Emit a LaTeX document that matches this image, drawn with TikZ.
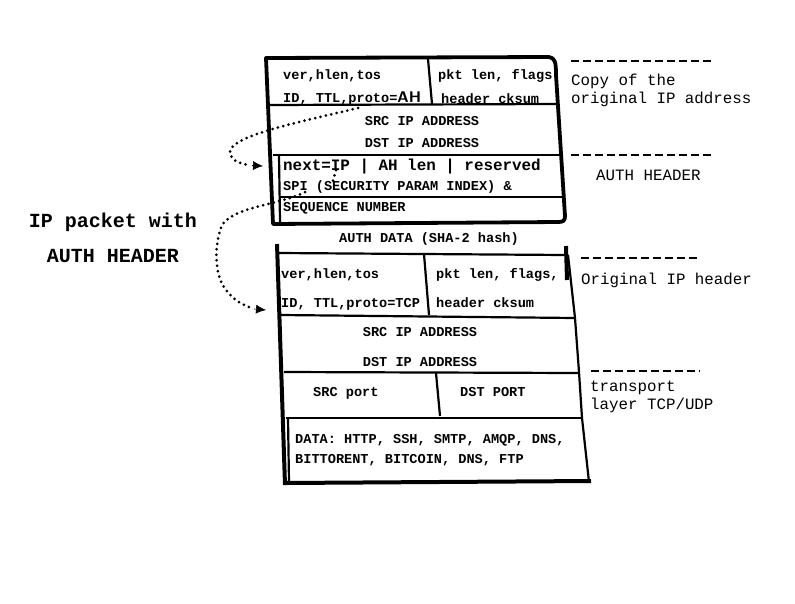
\documentclass[tikz,border=0pt]{standalone}
\usepackage{fontspec}
\setmainfont{Liberation Mono}
\setmonofont{Liberation Mono}
\usetikzlibrary{arrows.meta}
\tikzset{
  bx/.style={font=\fontsize{13.6}{16}\selectfont\bfseries, inner sep=0pt, anchor=base west},
  bxc/.style={font=\fontsize{13.6}{16}\selectfont\bfseries, inner sep=0pt, anchor=base},
  lbl/.style={font=\fontsize{15.8}{18}\selectfont, inner sep=0pt, anchor=base west, align=left},
  ttl/.style={font=\fontsize{20}{35}\selectfont\bfseries, inner sep=0pt, anchor=base, align=center},
  outer/.style={line width=3.8pt, line join=round},
  thickbar/.style={line width=4pt},
  div/.style={line width=2.2pt},
  thin/.style={line width=1.6pt},
  dashl/.style={line width=2pt, dash pattern=on 8pt off 4pt},
  dotc/.style={line width=3pt, dash pattern=on 0pt off 5.5pt, line cap=round},
  tip/.style={-{Latex[length=10pt,width=9pt]}, line width=0.6pt}
}
\begin{document}
\begin{tikzpicture}[x=1pt,y=-1pt]
\useasboundingbox (0,0) rectangle (795,603);
% ---------- top box (AH packet head) ----------
\draw[outer] (266,58) -- (549,57) .. controls (555,58) and (556,62) .. (556,75)
  -- (565,216) .. controls (565,221) and (563,222) .. (558,222) -- (273,224) -- cycle;
\draw[div] (269,105) -- (557,104);
\draw[div] (428,59) -- (432,104);
\draw[div] (273,155) -- (560,155);
\draw[thin] (280,197) -- (562,197);
\draw[div] (279,155) -- (280,222);
% ---------- bottom box (original IP packet) ----------
\draw[thickbar] (277,244) -- (285,485);
\draw[div] (279,253) -- (566,255);
\draw[thickbar] (566,246) -- (567,280);
\draw[div] (568,255) -- (575,318) -- (579,372) -- (582,418) -- (589,482);
\draw[div] (281,315) -- (575,318);
\draw[div] (424,254) -- (429,315);
\draw[div] (284,372) -- (579,373);
\draw[div] (436,373) -- (440,416);
\draw[div] (286,418) -- (582,418);
\draw[div] (288,418) -- (289,482);
\draw[thickbar] (285,483) -- (591,481);
% ---------- texts in the top box ----------
\node[bx] (t1) at (283,79) {ver,hlen,tos};
\node[bx] (t2) at (438,79) {pkt len, flags};
\node[bx] (t3) at (283,102) {ID, TTL,proto={\fontsize{15.5}{16}\selectfont\sffamily AH}};
\node[bx] (t4) at (441,103) {header cksum};
\node[bxc] (t5) at (422,125) {SRC IP ADDRESS};
\node[bxc] (t6) at (422,147) {DST IP ADDRESS};
\node[bx, font=\fontsize{15.9}{18}\selectfont\bfseries] (t7) at (283,170) {next=IP | AH len | reserved};
\node[bx] (t8) at (283,190) {SPI (SECURITY PARAM INDEX) \&};
\node[bx] (t9) at (283,211) {SEQUENCE NUMBER};
\node[bxc] (t10) at (429,242) {AUTH DATA (SHA-2 hash)};
% ---------- texts in the bottom box ----------
\node[bx] (b1) at (281,278) {ver,hlen,tos};
\node[bx] (b2) at (436,278) {pkt len, flags,};
\node[bx] (b3) at (281,307) {ID, TTL,proto=TCP};
\node[bx] (b4) at (436,307) {header cksum};
\node[bxc] (b5) at (420,336) {SRC IP ADDRESS};
\node[bxc] (b6) at (420,366) {DST IP ADDRESS};
\node[bx] (b7) at (313,396) {SRC port};
\node[bx] (b8) at (460,396) {DST PORT};
\node[bx] (b9) at (295,443) {DATA: HTTP, SSH, SMTP, AMQP, DNS,};
\node[bx] (b10) at (295,463) {BITTORENT, BITCOIN, DNS, FTP};
% ---------- left title ----------
\node[ttl] (title) at (113,262) {IP packet with\\AUTH HEADER};
% ---------- right labels with dashed rules ----------
\coordinate (d1a) at (571,61);  \coordinate (d1b) at (714,61);
\coordinate (d2a) at (571,155); \coordinate (d2b) at (714,155);
\coordinate (d3a) at (581,258); \coordinate (d3b) at (698,258);
\coordinate (d4a) at (591,371); \coordinate (d4b) at (700,371);
\draw[dashl] (d1a) -- (d1b);
\draw[dashl] (d2a) -- (d2b);
\draw[dashl] (d3a) -- (d3b);
\draw[dashl] (d4a) -- (d4b);
\node[lbl] (l1) at (571,103) {Copy of the\\original IP address};
\node[lbl] (l2) at (596,180) {AUTH HEADER};
\node[lbl] (l3) at (581,284) {Original IP header};
\node[lbl] (l4) at (590,409) {transport\\layer TCP/UDP};
% ---------- dotted connectors ----------
\coordinate (s1) at (358,108);
\coordinate (e1) at (263,166);
\draw[dotc] (s1) .. controls (300,122) and (228,136) .. (230,153)
  .. controls (232,162) and (242,164) .. (250,165);
\draw[tip] (252,165.5) -- (e1);
\coordinate (s2) at (336,170);
\coordinate (e2) at (266,310);
\draw[dotc] (s2) -- (333,181);
\draw[dotc] (305,192) .. controls (280,205) and (235,206) .. (222,225)
  .. controls (214,245) and (214,275) .. (226,290)
  .. controls (234,300) and (242,305) .. (252,308);
\draw[tip] (254,309) -- (e2);
\end{tikzpicture}
\end{document}
